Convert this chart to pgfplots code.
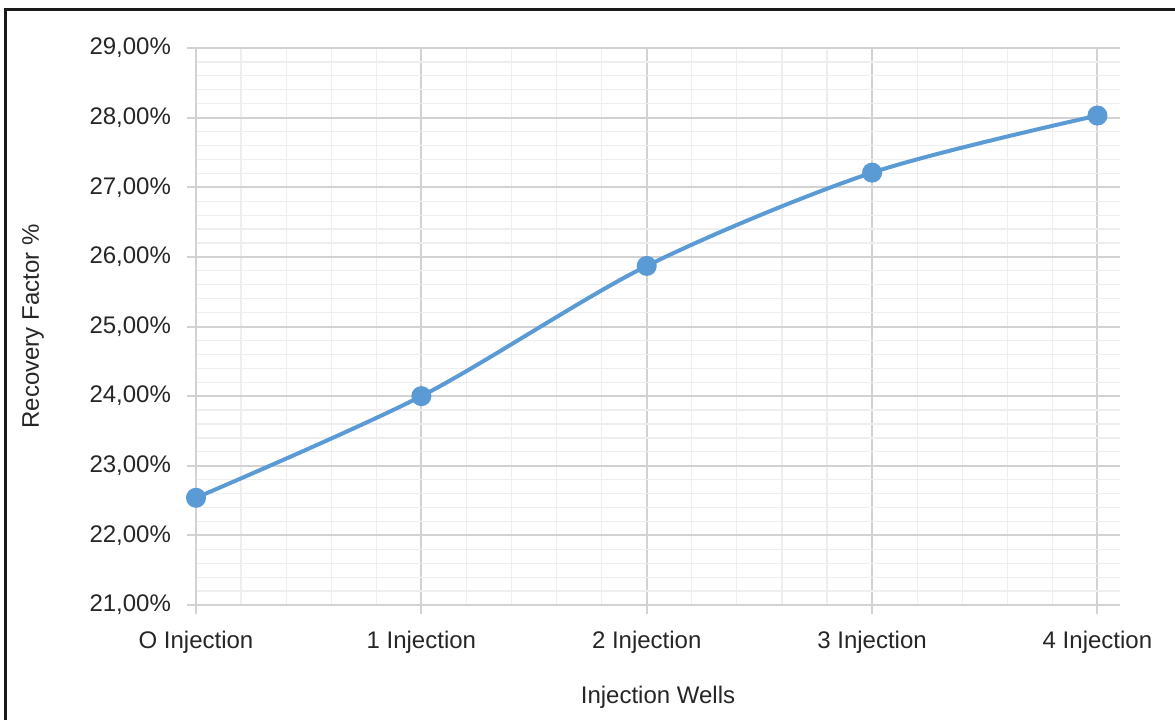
\documentclass[border=0pt]{standalone}
\usepackage{pgfplots}
\pgfplotsset{compat=1.18}
\usepackage{fontspec}
\setmainfont{Liberation Sans}
\definecolor{line}{RGB}{91,155,213}
\definecolor{txt}{RGB}{38,38,38}
\definecolor{majgrid}{RGB}{210,210,210}
\definecolor{mingrid}{RGB}{238,238,238}
\begin{document}
\begin{tikzpicture}
\useasboundingbox (-98pt,-57.5pt) rectangle (489.5pt,302.5pt);
\begin{axis}[
  at={(0,0)}, anchor=south west,
  scale only axis,
  width=462pt, height=278.5pt,
  xmin=0, xmax=4.1, ymin=21, ymax=29,
  xtick={0,1,2,3,4},
  xticklabels={O Injection,1 Injection,2 Injection,3 Injection,4 Injection},
  ytick={21,22,23,24,25,26,27,28,29},
  yticklabels={{21,00\%},{22,00\%},{23,00\%},{24,00\%},{25,00\%},{26,00\%},{27,00\%},{28,00\%},{29,00\%}},
  minor x tick num=4, minor y tick num=4,
  grid=both,
  major grid style={majgrid, line width=1pt},
  minor grid style={mingrid, line width=0.6pt},
  axis x line*=bottom, axis y line*=left,
  axis line style={majgrid, line width=1pt, -},
  tick align=outside,
  major tick length=4.5pt, minor tick length=0pt,
  tick style={majgrid, line width=1pt},
  ticklabel style={font=\fontsize{12}{14}\selectfont, text=txt},
  xticklabel style={yshift=-5pt},
  yticklabel style={xshift=-4.5pt},
  xlabel={Injection Wells}, ylabel={Recovery Factor \%},
  label style={font=\fontsize{12}{14}\selectfont, text=txt},
  xlabel style={at={(axis description cs:0.5,0)}, anchor=center, yshift=-46pt},
  ylabel style={at={(axis description cs:0,0.5)}, anchor=center, xshift=0pt, yshift=81.5pt},
  clip=false,
]
\addplot[line, line width=2pt, smooth, tension=0.5, mark=*, mark size=4pt, mark options={fill=line, draw=line}]
  coordinates {(0,22.54) (1,24.00) (2,25.87) (3,27.21) (4,28.03)};
\end{axis}
\draw[line width=1.5pt, black!90] (-95pt,-57.5pt) -- (-95pt,297.75pt) -- (489.5pt,297.75pt);
\end{tikzpicture}
\end{document}
